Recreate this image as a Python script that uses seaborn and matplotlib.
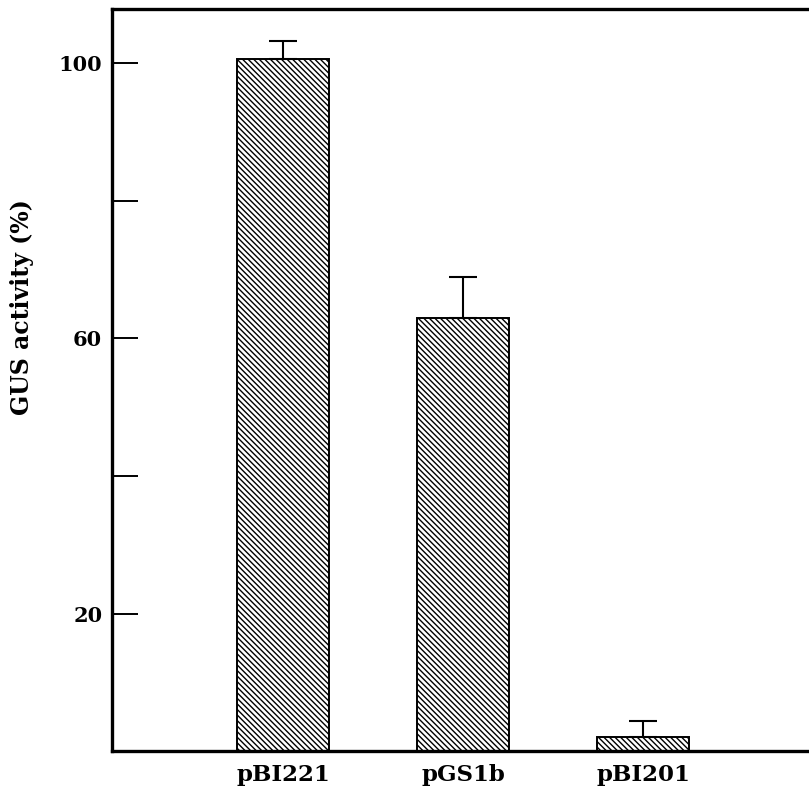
import numpy as np
import pandas as pd
import matplotlib
matplotlib.use('Agg')
import matplotlib.pyplot as plt
import seaborn as sns

# values
constructs = ['pBI221', 'pGS1b', 'pBI201']
gus_activity = [100.6, 63.0, 2.0]
gus_err = [2.7, 6.0, 2.3]

yticks_major = [20, 60, 100]
yticks_minor = [40, 80]

df = pd.DataFrame({'construct': constructs, 'activity': gus_activity})

sns.set_theme(style='white')
plt.rcParams['font.family'] = ['DejaVu Serif']
plt.rcParams['font.weight'] = 'bold'
plt.rcParams['text.color'] = 'black'
plt.rcParams['axes.labelcolor'] = 'black'
plt.rcParams['xtick.color'] = 'black'
plt.rcParams['ytick.color'] = 'black'
plt.rcParams['hatch.linewidth'] = 1.0

fig = plt.figure(figsize=(8.09, 7.99), dpi=100)
ax = fig.add_axes([0.1384, 0.0600, 0.8616, 0.9287])

sns.barplot(data=df, x='construct', y='activity', color='white', edgecolor='black',
            linewidth=1.4, width=0.51, errorbar=None, ax=ax)
for p in ax.patches:
    p.set_hatch('\\\\\\\\\\\\')

centers = [p.get_x() + p.get_width() / 2 for p in ax.patches]
ax.errorbar(centers, gus_activity, yerr=[np.zeros(len(gus_err)), gus_err],
            fmt='none', ecolor='black', elinewidth=1.5, capsize=10, capthick=1.5)

ax.set_xlim(-0.95, 2.92)
ax.set_ylim(0, 107.9)
ax.set_yticks(yticks_major)
ax.set_yticks(yticks_minor, minor=True)
ax.set_yticklabels([str(v) for v in yticks_major], fontsize=15, fontweight='bold')
ax.tick_params(axis='y', which='both', direction='in', length=19, width=1.4,
               color='black', left=True, pad=7)
ax.tick_params(axis='x', length=0, pad=9)
for lbl in ax.get_xticklabels():
    lbl.set_fontsize(16.5)
    lbl.set_fontweight('bold')

ax.set_xlabel('')
ax.set_ylabel('GUS activity (%)', fontsize=17, fontweight='bold')
ax.yaxis.set_label_coords(-0.112, 0.598)

for side in ['left', 'top', 'bottom']:
    ax.spines[side].set_visible(True)
    ax.spines[side].set_color('black')
    ax.spines[side].set_linewidth(2.4)
ax.spines['right'].set_visible(False)

fig.savefig('out.png', dpi=100)
